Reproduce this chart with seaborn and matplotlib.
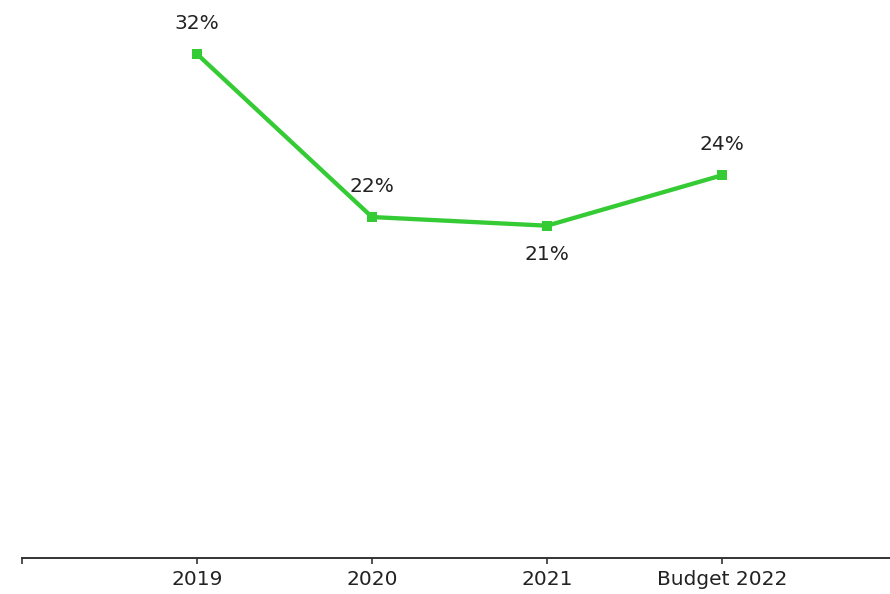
import matplotlib
matplotlib.use('Agg')
import matplotlib.pyplot as plt
import seaborn as sns
import pandas as pd

# data
periods = ['2019', '2020', '2021', 'Budget 2022']
share = [32.0, 21.65, 21.1, 24.3]
labels = ['32%', '22%', '21%', '24%']
label_side = ['above', 'above', 'below', 'above']

sns.set_style('white')
plt.rcParams['font.family'] = ['DejaVu Sans']

df = pd.DataFrame({'period': periods, 'share': share})

fig = plt.figure(figsize=(8.9, 5.94), dpi=100)
ax = fig.add_axes([22 / 890, 36 / 594, 1 - 22 / 890, 558 / 594])

sns.lineplot(data=df, x='period', y='share', ax=ax, color='#34CB34',
             linewidth=3.1, marker='s', markersize=6.5, markeredgewidth=0, sort=False)

for i, (v, txt, side) in enumerate(zip(share, labels, label_side)):
    dy = 22 if side == 'above' else -21
    ax.annotate(txt, (i, v), xytext=(0, dy), textcoords='offset points',
                ha='center', va='center', fontsize=14.5, color='#222222')

ax.set_xlim(-1, 3.96)
ax.set_ylim(0, 35.43)
ax.set_xticks([-1, 0, 1, 2, 3])
ax.set_xticklabels([''] + periods, fontsize=14.5, color='#222222')
ax.set_yticks([])
ax.set_xlabel('')
ax.set_ylabel('')
for s in ['top', 'right', 'left']:
    ax.spines[s].set_visible(False)
ax.spines['bottom'].set_color('#333333')
ax.spines['bottom'].set_linewidth(1.4)
ax.tick_params(axis='x', bottom=True, length=4.5, width=1.2, color='#333333', pad=4)

fig.savefig('out.png', dpi=100)
